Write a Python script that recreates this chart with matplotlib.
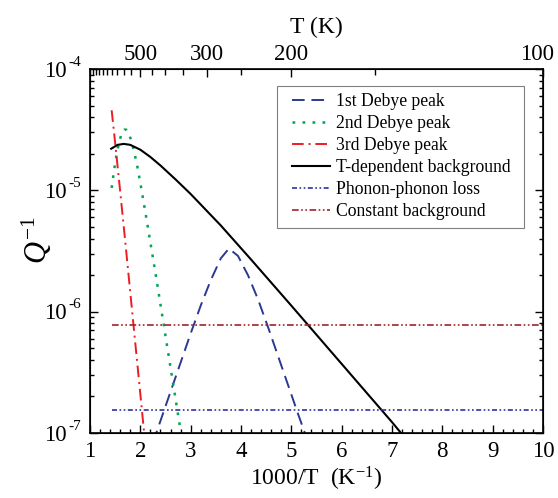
import numpy as np
import matplotlib
matplotlib.use("Agg")
import matplotlib.pyplot as plt
import matplotlib.transforms as mtransforms
from matplotlib.patches import Rectangle
from matplotlib.ticker import LogLocator, NullFormatter, FixedLocator, MultipleLocator

plt.rcParams['font.family'] = ['Liberation Serif', 'DejaVu Serif']
plt.rcParams['mathtext.fontset'] = 'custom'
plt.rcParams['mathtext.rm'] = 'Liberation Serif'
plt.rcParams['mathtext.it'] = 'Liberation Serif:italic'

# ---- data (x = 1000/T, y = log10 Q^-1) ----
peak1_x = [2.25, 2.40, 2.60, 2.80, 3.00, 3.20, 3.40, 3.60, 3.76, 3.94, 4.14, 4.34, 4.54, 4.74, 4.94, 5.14, 5.34]
peak1_logy = [-7.08, -6.90, -6.66, -6.42, -6.18, -5.95, -5.74, -5.56, -5.48, -5.54, -5.70, -5.90, -6.13, -6.37, -6.61, -6.85, -7.08]

peak2_x = [1.43, 1.48, 1.53, 1.58, 1.63, 1.68, 1.72, 1.77, 1.82, 1.87, 1.93, 2.00, 2.10, 2.20, 2.30, 2.40, 2.50, 2.60, 2.70, 2.80, 2.85]
peak2_logy = [-4.98, -4.83, -4.70, -4.60, -4.53, -4.50, -4.50, -4.53, -4.59, -4.67, -4.78, -4.94, -5.18, -5.43, -5.68, -5.94, -6.20, -6.46, -6.72, -6.98, -7.10]

peak3_x = [1.43, 1.50, 1.60, 1.70, 1.80, 1.90, 2.00, 2.10]
peak3_logy = [-4.34, -4.61, -5.01, -5.42, -5.84, -6.26, -6.68, -7.10]

bg_x = [1.42, 1.55, 1.67, 1.80, 2.00, 2.20, 2.40, 2.70, 3.00, 3.30, 3.60, 3.90, 4.20, 4.60, 5.00, 5.50, 6.00, 6.50, 7.00, 7.20, 7.30]
bg_logy = [-4.657, -4.625, -4.617, -4.625, -4.665, -4.725, -4.795, -4.91, -5.03, -5.16, -5.29, -5.43, -5.57, -5.76, -5.95, -6.19, -6.43, -6.67, -6.91, -7.01, -7.06]

phonon_x = [1.43, 10.0]
phonon_y = [1.55e-7, 1.55e-7]
const_x = [1.43, 10.0]
const_y = [7.7e-7, 7.7e-7]

y_decades = [-7, -6, -5, -4]
top_major_T = [500, 300, 200, 100]
top_minor_T = [1000, 950, 900, 850, 800, 750, 700, 650, 600, 550, 450, 400, 350, 250, 150]

labels = ['1st Debye peak', '2nd Debye peak', '3rd Debye peak',
          'T-dependent background', 'Phonon-phonon loss', 'Constant background']

fig = plt.figure(figsize=(5.58, 4.98), dpi=100)
ax = fig.add_axes([0.1613, 0.1305, 0.8117, 0.7309])

def lin(v):
    return [10 ** a for a in v]

ax.plot(peak1_x, lin(peak1_logy), color='#2B3990', lw=1.4, dashes=(6.5, 3.5), label=labels[0])
ax.plot(peak2_x, lin(peak2_logy), color='#00A651', lw=1.8, dashes=(1.1, 2.9), label=labels[1])
ax.plot(peak3_x, lin(peak3_logy), color='#ED1C24', lw=1.4, dashes=(6, 2.5, 1, 2.5), label=labels[2])
ax.plot(bg_x, lin(bg_logy), color='black', lw=1.5, label=labels[3])
ax.plot(phonon_x, phonon_y, color='#3030A0', lw=1.2, dashes=(3, 1.5, 1, 1.5, 1, 1.5), label=labels[4])
ax.plot(const_x, const_y, color='#A0222A', lw=1.2, dashes=(4, 1.5, 1, 1.5, 1, 1.5), label=labels[5])

ax.set_xlim(1, 10)
ax.set_yscale('log')
ax.set_ylim(1e-7, 1e-4)
ax.xaxis.set_major_locator(FixedLocator(range(1, 11)))
ax.xaxis.set_minor_locator(MultipleLocator(0.2))
ax.set_yticks([10.0 ** d for d in y_decades])
ax.yaxis.set_minor_locator(LogLocator(base=10, subs=np.arange(2, 10), numticks=20))
ax.yaxis.set_minor_formatter(NullFormatter())
ax.set_yticklabels([''] * len(y_decades))
ax.tick_params(which='both', direction='in', labelsize=16.5, right=True, width=1)
ax.tick_params(which='major', length=6)
ax.tick_params(which='minor', length=3)
ax.tick_params(axis='x', pad=6)
for s in ax.spines.values():
    s.set_linewidth(1.2)

# y tick labels drawn as "10" + small superscript exponent
ytrans = ax.get_yaxis_transform()
for d in y_decades:
    base_tr = mtransforms.offset_copy(ytrans, fig=fig, x=-23, y=-2, units='dots')
    ax.text(0, 10.0 ** d, '10', transform=base_tr, ha='right', va='center', fontsize=16.5)
    exp_tr = mtransforms.offset_copy(ytrans, fig=fig, x=-22, y=7, units='dots')
    ax.text(0, 10.0 ** d, '-%d' % abs(d), transform=exp_tr, ha='left', va='center', fontsize=11)

ax.set_xlabel('1000/T  (K$^{-1}$)', fontsize=17, labelpad=2)
ax.set_ylabel('$Q^{-1}$', fontsize=22)
ax.yaxis.set_label_coords(-0.08, 0.53)

ax2 = ax.twiny()
ax2.set_xlim(1, 10)
ax2.set_xticks([1000.0 / t for t in top_major_T])
ax2.set_xticklabels([str(t) for t in top_major_T])
ax2.set_xticks([1000.0 / t for t in top_minor_T], minor=True)
ax2.tick_params(which='both', direction='in', labelsize=16.5, pad=3, width=1)
ax2.tick_params(which='major', length=6)
ax2.tick_params(which='minor', length=4)
ax2.set_xlabel('T (K)', fontsize=17, labelpad=8)
lastlab = ax2.get_xticklabels()[-1]
lastlab.set_transform(lastlab.get_transform() + mtransforms.ScaledTranslation(-4 / 72, 0, fig.dpi_scale_trans))

# legend box + entries
ax.add_patch(Rectangle((0.413, 0.563), 0.545, 0.390, transform=ax.transAxes,
                       facecolor='white', edgecolor='#808080', lw=0.8, zorder=4))
leg = ax.legend(loc='upper left', bbox_to_anchor=(0.446, 0.933), fontsize=12.7,
                frameon=False, handlelength=2.15,
                handletextpad=0.35, labelspacing=0.28, borderpad=0, borderaxespad=0)
leg.set_zorder(5)

fig.savefig('out.png', dpi=100)
